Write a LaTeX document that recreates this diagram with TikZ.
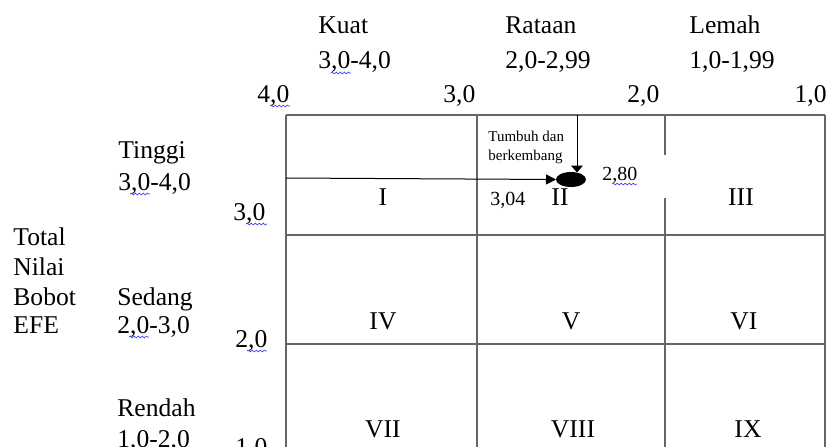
\documentclass[tikz,border=0pt]{standalone}
\usepackage{fontspec}
\setmainfont{Liberation Serif}
\usetikzlibrary{arrows.meta,decorations.pathmorphing}
\begin{document}
\begin{tikzpicture}[x=0.5pt,y=-0.5pt,
  lbl/.style={anchor=base west, inner sep=0pt, font=\fontsize{12.8}{15}\selectfont},
  lblr/.style={anchor=base east, inner sep=0pt, font=\fontsize{12.8}{15}\selectfont},
  cell/.style={anchor=base, inner sep=0pt, font=\fontsize{12.8}{15}\selectfont},
  val/.style={anchor=base west, inner sep=0pt, font=\fontsize{10}{12}\selectfont},
  note/.style={anchor=base west, inner sep=0pt, font=\fontsize{7.5}{9}\selectfont},
  gridline/.style={draw=black!60, line width=0.75pt},
  wavy/.style={draw=blue!75!white, line width=0.35pt, decorate,
    decoration={snake, amplitude=0.45pt, segment length=2pt}},
  arr/.style={line width=0.5pt, -{Triangle[length=5pt,width=5pt]}},
  varr/.style={line width=0.5pt, -{Triangle[length=3.5pt,width=6pt]}}
]
\useasboundingbox (0,0) rectangle (827,446);
% grid
\draw[gridline] (286,115) -- (825,115);
\draw[gridline] (286,235) -- (825,235);
\draw[gridline] (286,344) -- (825,344);
\draw[gridline] (286,115) -- (286,460);
\draw[gridline] (477,115) -- (477,460);
\draw[gridline] (665,115) -- (665,155);
\draw[gridline] (665,198) -- (665,460);
\draw[gridline] (825,115) -- (825,460);
% column headers
\node[lbl] (kuat) at (318,33) {Kuat};
\node[lbl] (kuatr) at (318,68) {3,0-4,0};
\node[lbl] (rata) at (505,33) {Rataan};
\node[lbl] (ratar) at (505,68) {2,0-2,99};
\node[lbl] (lemah) at (689,33) {Lemah};
\node[lbl] (lemahr) at (689,68) {1,0-1,99};
\node[lbl] (t40) at (257,102) {4,0};
\node[lbl] (t30) at (443,102) {3,0};
\node[lbl] (t20) at (627,102) {2,0};
\node[lblr] (t10) at (827,102) {1,0};
% row headers
\node[lbl] (tot) at (13,245) {Total};
\node[lbl] (nil) at (13,275) {Nilai};
\node[lbl] (bob) at (13,305) {Bobot};
\node[lbl] (efe) at (13,333) {EFE};
\node[lbl] (ting) at (118,158) {Tinggi};
\node[lbl] (tingr) at (118,190) {3,0-4,0};
\node[lbl] (sed) at (117,305) {Sedang};
\node[lbl] (sedr) at (117,333) {2,0-3,0};
\node[lbl] (ren) at (117,416) {Rendah};
\node[lbl] (renr) at (117,447) {1,0-2,0};
\node[lbl] (r30) at (233,220) {3,0};
\node[lbl] (r20) at (235,347) {2,0};
\node[lbl] (r10) at (235,455) {1,0};
% cells
\node[cell] (c1) at (383,205) {I};
\node[cell] (c2) at (560,205) {II};
\node[cell] (c3) at (741,205) {III};
\node[cell] (c4) at (383,329) {IV};
\node[cell] (c5) at (571,329) {V};
\node[cell] (c6) at (744,329) {VI};
\node[cell] (c7) at (383,437) {VII};
\node[cell] (c8) at (573,437) {VIII};
\node[cell] (c9) at (748,437) {IX};
% values and note
\node[val] (v304) at (490,205) {3,04};
\node[val] (v280) at (602,180) {2,80};
\node[note] (n1) at (488,141) {Tumbuh dan};
\node[note] (n2) at (488,160) {berkembang};
% position marker and arrows
\fill (571,179.5) ellipse [x radius=15, y radius=7.5];
\coordinate (blob) at (571,179.5);
\coordinate (blobw) at (556,179.5);
\coordinate (blobn) at (577,172.5);
\coordinate (hs) at (286,178);
\coordinate (vs) at (577,115);
\draw[arr] (hs) -- (blobw);
\draw[varr] (vs) -- (blobn);
% spell-check squiggles
\draw[wavy] (331,73) -- (351,73);
\draw[wavy] (270,106) -- (290,106);
\draw[wavy] (130,194) -- (150,194);
\draw[wavy] (246,224) -- (267,224);
\draw[wavy] (129,337) -- (149,337);
\draw[wavy] (247,351) -- (267,351);
\draw[wavy] (612,184) -- (637,184);
\end{tikzpicture}
\end{document}
